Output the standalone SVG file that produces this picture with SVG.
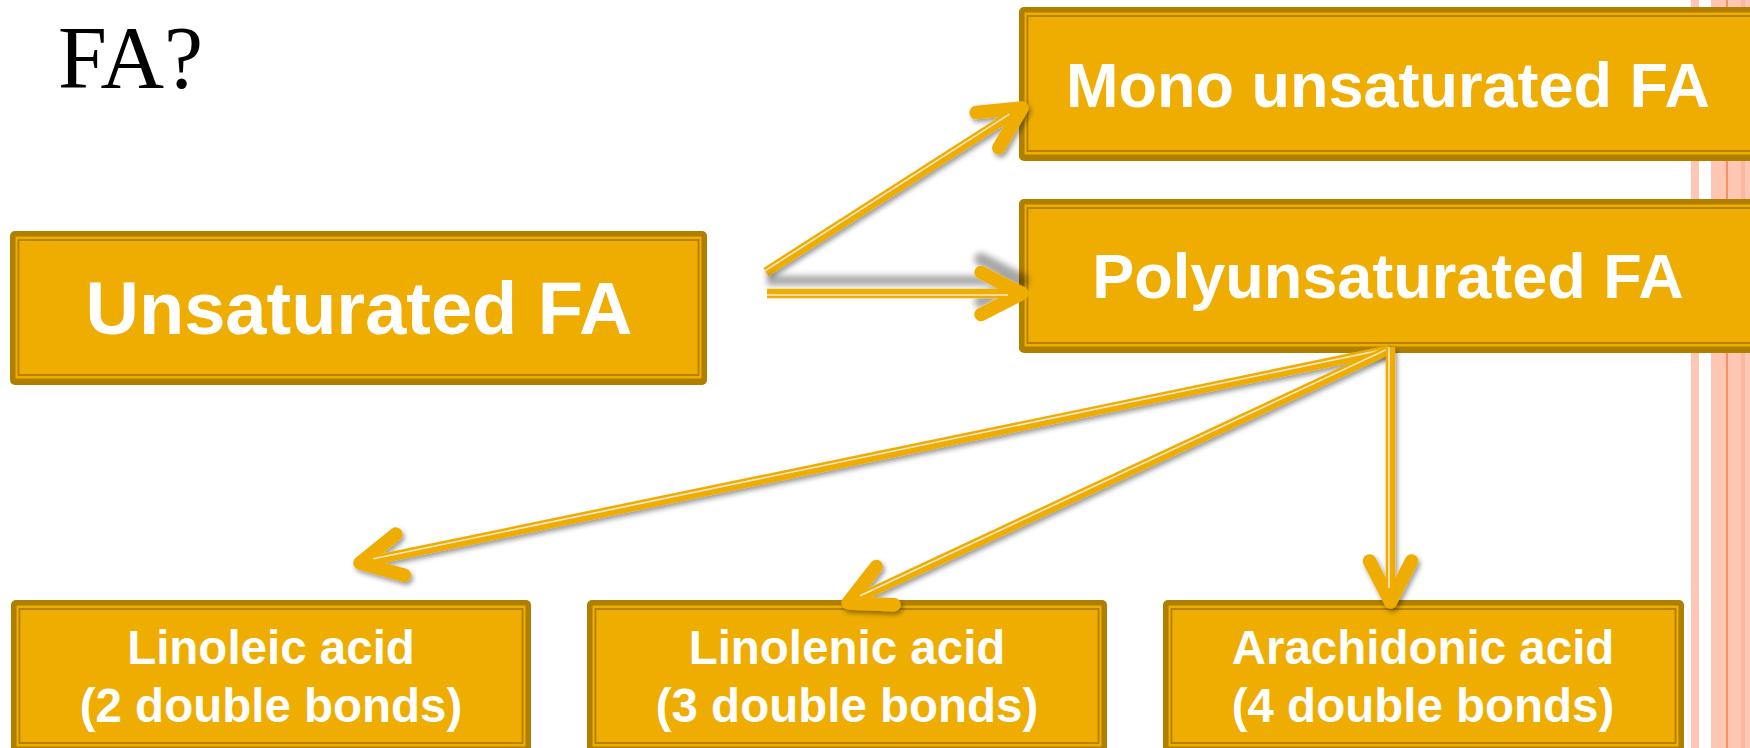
<svg xmlns="http://www.w3.org/2000/svg" width="1750" height="748" viewBox="0 0 1750 748">
  <style>
    .bo { fill: #B17F00; }
    .bi { fill: #EEAD00; }
    .bl { fill: none; stroke: #B17F00; stroke-width: 1.8; }
    .t { fill: #FFFFFF; font-family: "Liberation Sans", Arial, sans-serif; font-weight: bold; text-anchor: middle; }
    .gold { stroke: #EEAD00; stroke-width: 9.5; fill: none; stroke-linecap: butt; }
    .hl { stroke: #F3E8CC; stroke-width: 1.6; fill: none; }
    .pk { fill: #FDC7B3; }
  </style>
  <defs>
    <marker id="chev" markerUnits="userSpaceOnUse" viewBox="-60 -35 70 70" markerWidth="70" markerHeight="70" refX="0" refY="0" orient="auto" overflow="visible">
      <path d="M -41,-21 L 0,0 L -41,21" fill="none" stroke="#EEAD00" stroke-width="13.5" stroke-linecap="round" stroke-linejoin="round"/>
    </marker>
    <filter id="sh" filterUnits="userSpaceOnUse" x="0" y="0" width="1750" height="748">
      <feDropShadow dx="2" dy="3" stdDeviation="2.5" flood-color="#000" flood-opacity="0.4"/>
    </filter>
    <filter id="shUp" filterUnits="userSpaceOnUse" x="0" y="0" width="1750" height="748">
      <feDropShadow dx="0" dy="-13" stdDeviation="3" flood-color="#000" flood-opacity="0.35"/>
    </filter>
  </defs>

  <rect width="1750" height="748" fill="#FFFFFF"/>

  <!-- decorative stripes at right -->
  <g id="stripes">
    <rect class="pk" x="1691" y="0" width="8" height="748"/>
    <rect class="pk" x="1711" y="0" width="39" height="748"/>
    <rect x="1741" y="0" width="4" height="748" fill="#FBB79C"/>
    <rect x="1726" y="0" width="2" height="748" fill="#F7935E"/>
  </g>

  <text id="title" x="58" y="87" font-family="'Liberation Serif', 'Times New Roman', serif" font-size="88" fill="#000000">FA?</text>

  <g id="n-unsat">
    <rect class="bo" x="10" y="231" width="697" height="154" rx="5"/>
    <rect class="bi" x="15.5" y="236.5" width="686" height="142"/>
    <rect class="bl" x="18.5" y="240" width="680" height="135"/>
    <text class="t" x="359" y="334" font-size="74">Unsaturated FA</text>
  </g>

  <g id="n-mono">
    <rect class="bo" x="1019" y="7" width="740" height="154" rx="5"/>
    <rect class="bi" x="1024.5" y="12.5" width="730" height="142"/>
    <rect class="bl" x="1027.5" y="16" width="724" height="135"/>
    <text class="t" x="1388" y="107" font-size="63">Mono unsaturated FA</text>
  </g>

  <g id="n-poly">
    <rect class="bo" x="1019" y="199" width="740" height="154" rx="5"/>
    <rect class="bi" x="1024.5" y="204.5" width="730" height="142"/>
    <rect class="bl" x="1027.5" y="208" width="724" height="135"/>
    <text class="t" x="1388" y="298" font-size="63">Polyunsaturated FA</text>
  </g>

  <g id="n-linoleic">
    <rect class="bo" x="11" y="600" width="520" height="153" rx="5"/>
    <rect class="bi" x="16.5" y="605.5" width="509" height="141"/>
    <rect class="bl" x="19.5" y="609" width="503" height="134"/>
    <text class="t" x="271" y="664" font-size="47.5">Linoleic acid</text>
    <text class="t" x="271" y="722" font-size="47.5">(2 double bonds)</text>
  </g>

  <g id="n-linolenic">
    <rect class="bo" x="587" y="600" width="520" height="153" rx="5"/>
    <rect class="bi" x="592.5" y="605.5" width="509" height="141"/>
    <rect class="bl" x="595.5" y="609" width="503" height="134"/>
    <text class="t" x="847" y="664" font-size="47.5">Linolenic acid</text>
    <text class="t" x="847" y="722" font-size="47.5">(3 double bonds)</text>
  </g>

  <g id="n-arachidonic">
    <rect class="bo" x="1163" y="600" width="521" height="153" rx="5"/>
    <rect class="bi" x="1168.5" y="605.5" width="510" height="141"/>
    <rect class="bl" x="1171.5" y="609" width="504" height="134"/>
    <text class="t" x="1423" y="664" font-size="47.5">Arachidonic acid</text>
    <text class="t" x="1423" y="722" font-size="47.5">(4 double bonds)</text>
  </g>

  <g id="connectors">
    <g id="c-unsat-mono" filter="url(#sh)">
      <path class="gold" d="M 766,272 L 1022,108" marker-end="url(#chev)"/>
      <path class="hl" d="M 765.2,270.7 L 1009.4,114.2"/>
    </g>
    <g id="c-unsat-poly" filter="url(#shUp)">
      <path class="gold" d="M 767,293.5 L 1022,293.5" marker-end="url(#chev)"/>
      <path class="hl" d="M 767,295 L 1008,295"/>
    </g>
    <g id="c-poly-linoleic" filter="url(#sh)">
      <path class="gold" d="M 1389,350 L 360,563" marker-end="url(#chev)"/>
      <path class="hl" d="M 1388.7,348.5 L 373.4,558.7"/>
    </g>
    <g id="c-poly-linolenic" filter="url(#sh)">
      <path class="gold" d="M 1389,350 L 848,603" marker-end="url(#chev)"/>
      <path class="hl" d="M 1388.4,348.6 L 860.1,595.7"/>
    </g>
    <g id="c-poly-arachidonic" filter="url(#sh)">
      <path class="gold" d="M 1390.5,347 L 1390.5,602" marker-end="url(#chev)"/>
      <path class="hl" d="M 1389,347 L 1389,588"/>
    </g>
  </g>
</svg>
